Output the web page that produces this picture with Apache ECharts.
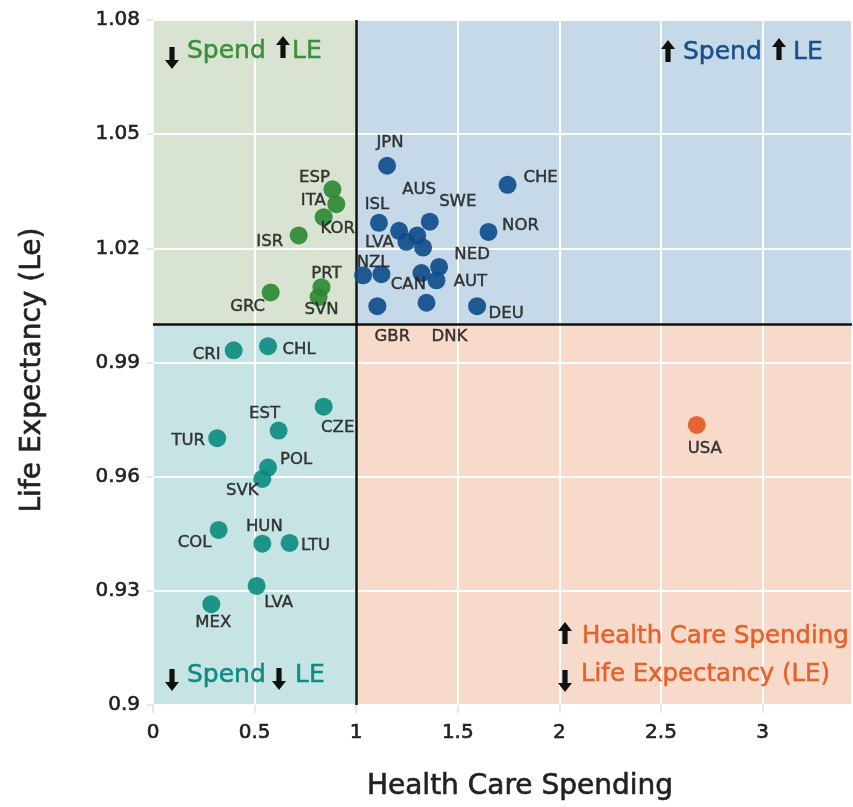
<!DOCTYPE html>
<html>
<head>
<meta charset="utf-8">
<title>Health Care Spending vs Life Expectancy</title>
<script src="https://cdn.jsdelivr.net/npm/echarts@6/dist/echarts.min.js"></script>
<style>
  html, body { margin: 0; padding: 0; background: #fff; }
  #main { width: 853px; height: 807px; }
</style>
</head>
<body>
<div id="main"></div>
<script>
// 低支出 / 高寿命
const greenNames = ['ESP', 'ITA', 'KOR', 'ISR', 'PRT', 'SVN', 'GRC']
const greenSpend = [0.883, 0.902, 0.840, 0.717, 0.829, 0.815, 0.579]
const greenLE = [1.0355, 1.0316, 1.0282, 1.0234, 1.0098, 1.0072, 1.0084]

// 高支出 / 高寿命
const blueNames = ['JPN', 'CHE', 'ISL', 'AUS', 'SWE', '', 'LVA', '', 'NOR', 'NZL', '', 'CAN', 'NED', 'AUT', 'GBR', 'DNK', 'DEU']
const blueSpend = [1.152, 1.745, 1.112, 1.211, 1.362, 1.300, 1.247, 1.329, 1.651, 1.034, 1.124, 1.321, 1.408, 1.395, 1.104, 1.346, 1.595]
const blueLE = [1.0417, 1.0367, 1.0267, 1.0246, 1.0270, 1.0234, 1.0217, 1.0202, 1.0243, 1.0129, 1.0132, 1.0135, 1.0151, 1.0116, 1.0048, 1.0057, 1.0048]

// 低支出 / 低寿命
const tealNames = ['CRI', 'CHL', 'CZE', 'EST', 'TUR', 'POL', 'SVK', 'COL', 'HUN', 'LTU', 'LVA', 'MEX']
const tealSpend = [0.397, 0.566, 0.840, 0.618, 0.316, 0.566, 0.538, 0.323, 0.538, 0.672, 0.510, 0.287]
const tealLE = [0.9932, 0.9943, 0.9784, 0.9721, 0.9701, 0.9624, 0.9594, 0.9460, 0.9424, 0.9426, 0.9313, 0.9265]

// 高支出 / 低寿命
const orangeNames = ['USA']
const orangeSpend = [2.676]
const orangeLE = [0.9736]

// axis ticks
const xMin = 0
const xMax = 3.44
const xInterval = 0.5
const yMin = 0.9
const yMax = 1.08
const yInterval = 0.03

// label offsets (px, from dot centre)
const greenOffsets = [[-18, -12], [-23, -3], [14, 12], [-29, 6], [5, -13], [3, 13], [-23, 14]]
const blueOffsets = [[3, -23], [33, -7], [-2, -18], [20, -41], [28, -20], [0, 0], [-27, 1], [0, 0], [32, -6], [10, -13], [0, 0], [-13, 12], [33, -12], [34, 1], [15, 31], [23, 34], [29, 8]]
const tealOffsets = [[-27, 4], [31, 4], [14, 21], [-14, -17], [-29, 2], [28, -8], [-20, 12], [-24, 13], [2, -17], [26, 3], [22, 17], [2, 19]]
const orangeOffsets = [[8, 24]]

const FONT = 'DejaVu Sans'

function buildPoints(names, xs, ys, offsets) {
  return names.map((name, i) => ({
    name: name,
    value: [xs[i], ys[i]],
    label: { offset: offsets[i] }
  }))
}

function pointSeries(name, color, data) {
  return {
    name: name,
    type: 'scatter',
    z: 5,
    symbolSize: 18,
    itemStyle: { color: color, opacity: 0.9 },
    label: {
      show: true,
      position: 'inside',
      formatter: '{b}',
      color: '#222',
      fontSize: 16.5,
      fontFamily: FONT,
      textBorderColor: '#222',
      textBorderWidth: 0.4
    },
    emphasis: { disabled: true },
    data: data
  }
}

function upArrow(cx, cy) {
  return {
    type: 'polygon',
    z: 10,
    shape: {
      points: [[cx, cy - 11], [cx + 7, cy - 2], [cx + 2.6, cy - 2], [cx + 2.6, cy + 11],
        [cx - 2.6, cy + 11], [cx - 2.6, cy - 2], [cx - 7, cy - 2]]
    },
    style: { fill: '#111' }
  }
}

function downArrow(cx, cy) {
  return {
    type: 'polygon',
    z: 10,
    shape: {
      points: [[cx, cy + 11], [cx + 7, cy + 2], [cx + 2.6, cy + 2], [cx + 2.6, cy - 11],
        [cx - 2.6, cy - 11], [cx - 2.6, cy + 2], [cx - 7, cy + 2]]
    },
    style: { fill: '#111' }
  }
}

function label(text, x, y, color, size) {
  return {
    type: 'text',
    z: 10,
    x: x,
    y: y,
    style: {
      text: text,
      fill: color,
      stroke: color,
      lineWidth: 0.5,
      font: (size || 25) + 'px "' + FONT + '"',
      textAlign: 'left',
      textVerticalAlign: 'middle'
    }
  }
}

const chart = echarts.init(document.getElementById('main'))

const tickLabel = {
  color: '#222',
  fontSize: 20,
  fontFamily: FONT,
  textBorderColor: '#222',
  textBorderWidth: 0.6
}

const option = {
  animation: false,
  grid: { left: 153, right: 1, top: 20, bottom: 102 },
  xAxis: {
    type: 'value',
    min: xMin,
    max: xMax,
    interval: xInterval,
    z: 3,
    axisLine: { show: false },
    axisTick: { show: true, length: 8, lineStyle: { color: '#e6e6e6', width: 2 } },
    axisLabel: Object.assign({}, tickLabel, {
      margin: 18,
      showMaxLabel: false,
      formatter: v => (v > 3.01 ? '' : String(+v.toFixed(2)))
    }),
    splitLine: { show: true, lineStyle: { color: '#fff', width: 2 } }
  },
  yAxis: {
    type: 'value',
    min: yMin,
    max: yMax,
    interval: yInterval,
    z: 3,
    axisLine: { show: false },
    axisTick: { show: true, length: 6, lineStyle: { color: '#e6e6e6', width: 2 } },
    axisLabel: Object.assign({}, tickLabel, {
      margin: 13,
      formatter: v => String(+v.toFixed(2))
    }),
    splitLine: { show: true, lineStyle: { color: '#fff', width: 2 } }
  },
  graphic: [
    // axis names
    {
      type: 'text', x: 520, y: 787,
      style: { text: 'Health Care Spending', fill: '#222', stroke: '#222', lineWidth: 0.6, font: '28px "' + FONT + '"', textAlign: 'center', textVerticalAlign: 'middle' }
    },
    {
      type: 'text', x: 33, y: 370, rotation: Math.PI / 2,
      style: { text: 'Life Expectancy (Le)', fill: '#222', stroke: '#222', lineWidth: 0.6, font: '28px "' + FONT + '"', textAlign: 'center', textVerticalAlign: 'middle' }
    },
    // quadrant notes
    downArrow(172, 58), label('Spend', 187, 51, '#3b8f3b'), upArrow(283, 47), label('LE', 292, 51, '#3b8f3b'),
    upArrow(668, 51), label('Spend', 683, 52, '#1b4f8a'), upArrow(779, 49), label('LE', 793, 52, '#1b4f8a'),
    downArrow(172, 680), label('Spend', 187, 675, '#108a84'), downArrow(279, 679), label('LE', 295, 675, '#108a84'),
    upArrow(565, 633), label('Health Care Spending', 582, 637, '#e4612a', 24.4),
    downArrow(565, 681), label('Life Expectancy (LE)', 581, 675, '#e4612a', 24.4)
  ],
  series: [
    {
      // quadrant backgrounds, under the white grid lines
      type: 'scatter',
      z: 1,
      silent: true,
      data: [],
      markArea: {
        silent: true,
        label: { show: false },
        data: [
          [{ xAxis: xMin, yAxis: 1, itemStyle: { color: '#d8e4d1' } }, { xAxis: 1, yAxis: yMax }],
          [{ xAxis: 1, yAxis: 1, itemStyle: { color: '#c5d9e8' } }, { xAxis: xMax, yAxis: yMax }],
          [{ xAxis: xMin, yAxis: yMin, itemStyle: { color: '#c6e4e3' } }, { xAxis: 1, yAxis: 1 }],
          [{ xAxis: 1, yAxis: yMin, itemStyle: { color: '#f8dacb' } }, { xAxis: xMax, yAxis: 1 }]
        ]
      }
    },
    {
      // quadrant dividers
      type: 'scatter',
      z: 4,
      silent: true,
      data: [],
      markLine: {
        silent: true,
        symbol: 'none',
        label: { show: false },
        lineStyle: { color: '#111', width: 2.5, type: 'solid' },
        data: [{ xAxis: 1 }, { yAxis: 1 }]
      }
    },
    pointSeries('green', '#2a8731', buildPoints(greenNames, greenSpend, greenLE, greenOffsets)),
    pointSeries('blue', '#0c4a8b', buildPoints(blueNames, blueSpend, blueLE, blueOffsets)),
    pointSeries('teal', '#0a8a80', buildPoints(tealNames, tealSpend, tealLE, tealOffsets)),
    pointSeries('orange', '#e3561f', buildPoints(orangeNames, orangeSpend, orangeLE, orangeOffsets))
  ]
}

chart.setOption(option)
</script>
</body>
</html>
